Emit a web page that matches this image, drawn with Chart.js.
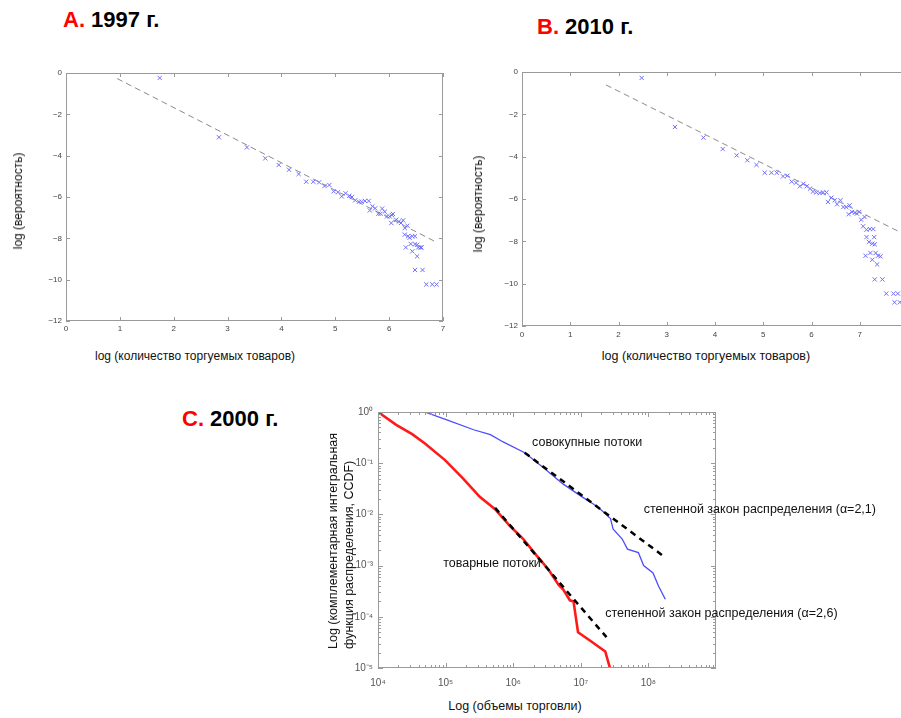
<!DOCTYPE html>
<html>
<head>
<meta charset="utf-8">
<script src="https://cdn.jsdelivr.net/npm/chart.js@4/dist/chart.umd.min.js"></script>
<style>
body { margin: 0; width: 901px; height: 718px; overflow: hidden; background: #fff; position: relative; font-family: "Liberation Sans", Arial, sans-serif; }
canvas { position: absolute; }
.hd { position: absolute; font-weight: bold; font-size: 22px; line-height: 1; color: #000; white-space: nowrap; }
.hd span { color: #f00; }
.t { position: absolute; white-space: nowrap; color: #111; transform: translate(-50%, -50%); }
.r { transform: translate(-50%, -50%) rotate(-90deg); }
</style>
</head>
<body>
<div class="hd" style="left:63px;top:9px"><span>A.</span> 1997 г.</div>
<div class="hd" style="left:537px;top:16px"><span>B.</span> 2010 г.</div>
<div class="hd" style="left:182px;top:408px"><span>C.</span> 2000 г.</div>

<canvas id="chartA" width="450" height="300" style="left:0;top:40px"></canvas>
<canvas id="chartB" width="455" height="300" style="left:460px;top:40px"></canvas>
<canvas id="chartC" width="601" height="300" style="left:300px;top:395px"></canvas>

<div class="t" style="left:195px;top:356px;font-size:12px">log (количество торгуемых товаров)</div>
<div class="t r" style="left:18px;top:201px;font-size:12px">log (вероятность)</div>
<div class="t" style="left:706px;top:356px;font-size:12.5px">log (количество торгуемых товаров)</div>
<div class="t r" style="left:478px;top:204px;font-size:12px">log (вероятность)</div>
<div class="t" style="left:515px;top:706px;font-size:12.5px">Log (объемы торговли)</div>
<div class="t r" style="left:341px;top:541px;font-size:12.5px;line-height:16px;text-align:left">Log (комплементарная интегральная<br>функция распределения, CCDF)</div>

<script>
// A. 1997
const aX = [1.74, 2.84, 3.36, 3.70, 3.95, 4.14, 4.32, 4.46, 4.59, 4.70, 4.80, 4.89, 4.97, 5.05, 5.12, 5.19, 5.26, 5.31, 5.37, 5.44, 5.49, 5.55, 5.62, 5.64, 5.69, 5.74, 5.80, 5.84, 5.87, 5.92, 5.96, 6.01, 6.05, 6.07, 6.04, 6.13, 6.18, 6.22, 6.26, 6.29, 6.34, 6.29, 6.35, 6.38, 6.43, 6.48, 6.31, 6.40, 6.43, 6.48, 6.52, 6.54, 6.58, 6.60, 6.52, 6.48, 6.62, 6.69, 6.80, 6.88];
const aY = [-0.24, -3.11, -3.60, -4.13, -4.45, -4.68, -4.89, -5.26, -5.26, -5.29, -5.47, -5.42, -5.73, -5.77, -5.97, -5.82, -5.94, -6.00, -6.16, -6.23, -6.23, -6.19, -6.19, -6.65, -6.45, -6.55, -6.81, -6.81, -6.56, -6.71, -6.94, -6.94, -6.87, -6.82, -7.26, -7.10, -7.19, -7.26, -7.13, -7.50, -7.39, -7.82, -7.90, -7.97, -7.90, -7.90, -8.44, -8.27, -8.63, -8.29, -8.31, -8.44, -8.44, -8.44, -8.87, -9.53, -9.53, -10.23, -10.23, -10.23];
const aFitX = [0.95, 6.85];
const aFitY = [-0.27, -8.15];

// B. 2010
const bX = [2.48, 3.17, 3.76, 4.16, 4.45, 4.67, 4.86, 5.03, 5.17, 5.28, 5.41, 5.50, 5.59, 5.68, 5.76, 5.83, 5.90, 5.97, 6.03, 6.10, 6.17, 6.24, 6.31, 6.34, 6.41, 6.48, 6.53, 6.60, 6.66, 6.72, 6.79, 6.77, 6.84, 6.90, 6.94, 6.99, 7.03, 7.10, 7.07, 7.14, 7.21, 7.28, 7.14, 7.19, 7.26, 7.30, 7.31, 7.12, 7.22, 7.26, 7.33, 7.38, 7.43, 7.36, 7.31, 7.47, 7.55, 7.70, 7.79, 7.72, 7.83];
const bY = [-0.28, -2.60, -3.10, -3.64, -3.94, -4.17, -4.39, -4.76, -4.76, -4.76, -4.93, -4.90, -5.18, -5.23, -5.40, -5.28, -5.40, -5.51, -5.65, -5.69, -5.72, -5.69, -5.69, -6.14, -5.94, -6.06, -6.25, -6.06, -6.38, -6.38, -6.30, -6.72, -6.61, -6.65, -6.69, -6.61, -6.98, -6.85, -7.29, -7.45, -7.42, -7.42, -7.80, -8.03, -8.11, -7.80, -8.14, -8.68, -8.55, -8.87, -8.55, -8.68, -8.71, -9.09, -9.80, -9.80, -10.47, -10.47, -10.47, -10.88, -10.88];
const bFitX = [1.74, 7.9];
const bFitY = [-0.61, -7.64];

// C. 2000 (CCDF)
const goodsX = [1e4, 1.86e4, 3.2e4, 4.9e4, 9.8e4, 1.82e5, 3.2e5, 5.4e5, 8.9e5, 1.41e6, 2.24e6, 3.3e6, 4.7e6, 5.5e6, 6.9e6, 7.8e6, 9.1e6, 1.38e7, 2.3e7, 2.7e7];
const goodsY = [1, 0.56, 0.37, 0.245, 0.115, 0.05, 0.022, 0.0126, 0.006, 0.0033, 0.00155, 8.5e-4, 4.2e-4, 3.4e-4, 2.1e-4, 2.0e-4, 5.0e-5, 3.4e-5, 2.1e-5, 1.0e-5];
const totalX = [4.9e4, 1.02e5, 2.6e5, 4.6e5, 7.1e5, 1.48e6, 2.75e6, 5.5e6, 1.1e7, 1.55e7, 1.95e7, 2.75e7, 3.0e7, 4.1e7, 4.9e7, 7.1e7, 8.5e7, 1.17e8, 1.41e8, 1.78e8];
const totalY = [1, 0.71, 0.45, 0.36, 0.26, 0.16, 0.083, 0.039, 0.021, 0.0158, 0.0126, 0.0083, 0.0052, 0.0033, 0.0021, 0.0018, 0.001, 7.2e-4, 4.0e-4, 2.2e-4];
const goodsFitX = [5.4e5, 2.4e7];
const goodsFitY = [1.34e-2, 4.0e-5];
const totalFitX = [1.48e6, 1.62e8];
const totalFitY = [0.16, 1.58e-3];
const cXTicks = [1e4, 1e5, 1e6, 1e7, 1e8];
const cYTicks = [1e-5, 1e-4, 1e-3, 1e-2, 1e-1, 1];
const cNotes = [
    { x: 1.9e6, y: 0.25, text: 'совокупные потоки' },
    { x: 8.5e7, y: 0.0122, text: 'степенной закон распределения (α=2,1)' },
    { x: 9.2e4, y: 1.12e-3, text: 'товарные потоки' },
    { x: 2.3e7, y: 1.18e-4, text: 'степенной закон распределения (α=2,6)' },
];

Chart.defaults.font.family = '"Liberation Sans", Arial, sans-serif';

const pts = (xs, ys) => xs.map((x, i) => ({ x: x, y: ys[i] }));
const minus = v => v < 0 ? '\u2212' + Math.abs(v) : '' + v;
const SUP = { '-': '\u207B', '0': '\u2070', '1': '\u00B9', '2': '\u00B2', '3': '\u00B3', '4': '\u2074', '5': '\u2075', '6': '\u2076', '7': '\u2077', '8': '\u2078', '9': '\u2079' };
const pow10 = v => '10' + String(Math.round(Math.log10(v))).split('').map(c => SUP[c]).join('');

// matlab style box with inward ticks
const frame = {
    id: 'frame',
    afterDatasetsDraw(chart) {
        const { ctx, chartArea: a, scales } = chart;
        const o = chart.options.plugins.frame;
        ctx.save();
        ctx.strokeStyle = o.color;
        ctx.lineWidth = 1;
        ctx.strokeRect(a.left + 0.5, a.top + 0.5, a.right - a.left - 1, a.bottom - a.top - 1);
        ctx.beginPath();
        const mark = (ax, v, len) => {
            const p = Math.round(scales[ax].getPixelForValue(v)) + 0.5;
            if (ax === 'x') {
                ctx.moveTo(p, a.bottom); ctx.lineTo(p, a.bottom - len);
                ctx.moveTo(p, a.top); ctx.lineTo(p, a.top + len);
            } else {
                ctx.moveTo(a.left, p); ctx.lineTo(a.left + len, p);
                ctx.moveTo(a.right, p); ctx.lineTo(a.right - len, p);
            }
        };
        ['x', 'y'].forEach(ax => {
            scales[ax].ticks.forEach(t => mark(ax, t.value, o.len));
            ((o.minor || {})[ax] || []).forEach(v => mark(ax, v, o.len * 0.6));
        });
        ctx.stroke();
        ctx.restore();
    }
};

const notes = {
    id: 'notes',
    afterDatasetsDraw(chart) {
        const items = chart.options.plugins.notes.items || [];
        const { ctx, scales: { x, y } } = chart;
        ctx.save();
        ctx.font = '12.5px "Liberation Sans", Arial, sans-serif';
        ctx.fillStyle = '#111';
        ctx.textBaseline = 'middle';
        items.forEach(n => ctx.fillText(n.text, x.getPixelForValue(n.x), y.getPixelForValue(n.y)));
        ctx.restore();
    }
};

function scatterPanel(id, xs, ys, fx, fy, o) {
    return new Chart(document.getElementById(id), {
        type: 'scatter',
        data: {
            datasets: [{
                data: pts(xs, ys),
                pointStyle: 'crossRot',
                pointRadius: 3,
                borderWidth: 1,
                borderColor: '#6e6eff',
                backgroundColor: 'transparent',
            }, {
                data: pts(fx, fy),
                showLine: true,
                pointRadius: 0,
                borderWidth: 1,
                borderColor: '#8a8a8a',
                borderDash: [6, 4],
            }]
        },
        options: {
            responsive: false,
            animation: false,
            layout: { padding: { top: o.pt, right: o.pr, left: 0, bottom: 0 } },
            plugins: {
                legend: { display: false },
                tooltip: { enabled: false },
                frame: { color: '#9a9a9a', len: 4 },
            },
            scales: {
                x: {
                    type: 'linear', min: 0, max: o.xmax,
                    afterFit: s => { s.height = o.xh; },
                    grid: { display: false, drawTicks: false },
                    border: { display: false },
                    ticks: { stepSize: 1, padding: o.xpad, color: '#444', font: { size: 8 }, maxRotation: 0 },
                },
                y: {
                    type: 'linear', min: -12, max: 0,
                    afterFit: s => { s.width = o.yw; },
                    grid: { display: false, drawTicks: false },
                    border: { display: false },
                    ticks: { stepSize: 2, padding: 4, color: '#444', font: { size: 8 }, callback: minus },
                }
            }
        },
        plugins: [frame]
    });
}

scatterPanel('chartA', aX, aY, aFitX, aFitY, { pt: 33, pr: 7, yw: 66, xh: 19, xmax: 7, xpad: 3 });
scatterPanel('chartB', bX, bY, bFitX, bFitY, { pt: 32, pr: 7, yw: 62, xh: 14, xmax: 8, xpad: 4 });

// minor log ticks for panel C
const minorX = [], minorY = [];
for (let d = 4; d < 9; d++) for (let m = 2; m < 10; m++) minorX.push(m * Math.pow(10, d));
for (let d = -5; d < 0; d++) for (let m = 2; m < 10; m++) minorY.push(m * Math.pow(10, d));

new Chart(document.getElementById('chartC'), {
    type: 'scatter',
    data: {
        datasets: [{
            data: pts(totalFitX, totalFitY),
            showLine: true, pointRadius: 0,
            borderColor: '#000', borderWidth: 2.5, borderDash: [6, 5],
        }, {
            data: pts(goodsFitX, goodsFitY),
            showLine: true, pointRadius: 0,
            borderColor: '#000', borderWidth: 2.5, borderDash: [6, 5],
        }, {
            data: pts(totalX, totalY),
            showLine: true, pointRadius: 0,
            borderColor: '#4b4bff', borderWidth: 1.3,
        }, {
            data: pts(goodsX, goodsY),
            showLine: true, pointRadius: 0,
            borderColor: '#ff1a1a', borderWidth: 2.6,
        }]
    },
    options: {
        responsive: false,
        animation: false,
        layout: { padding: { top: 17, right: 185, left: 0, bottom: 0 } },
        plugins: {
            legend: { display: false },
            tooltip: { enabled: false },
            frame: { color: '#9a9a9a', len: 5, minor: { x: minorX, y: minorY } },
            notes: { items: cNotes },
        },
        scales: {
            x: {
                type: 'logarithmic', min: 1e4, max: 1e9,
                afterFit: s => { s.height = 27; },
                afterBuildTicks: s => { s.ticks = cXTicks.map(v => ({ value: v })); },
                grid: { display: false, drawTicks: false },
                border: { display: false },
                ticks: { padding: 9, color: '#555', font: { size: 10 }, maxRotation: 0, autoSkip: false, callback: pow10 },
            },
            y: {
                type: 'logarithmic', min: 1e-5, max: 1,
                afterFit: s => { s.width = 78; },
                afterBuildTicks: s => { s.ticks = cYTicks.map(v => ({ value: v })); },
                grid: { display: false, drawTicks: false },
                border: { display: false },
                ticks: { padding: 5, color: '#555', font: { size: 10 }, autoSkip: false, callback: pow10 },
            }
        }
    },
    plugins: [frame, notes]
});
</script>
</body>
</html>
